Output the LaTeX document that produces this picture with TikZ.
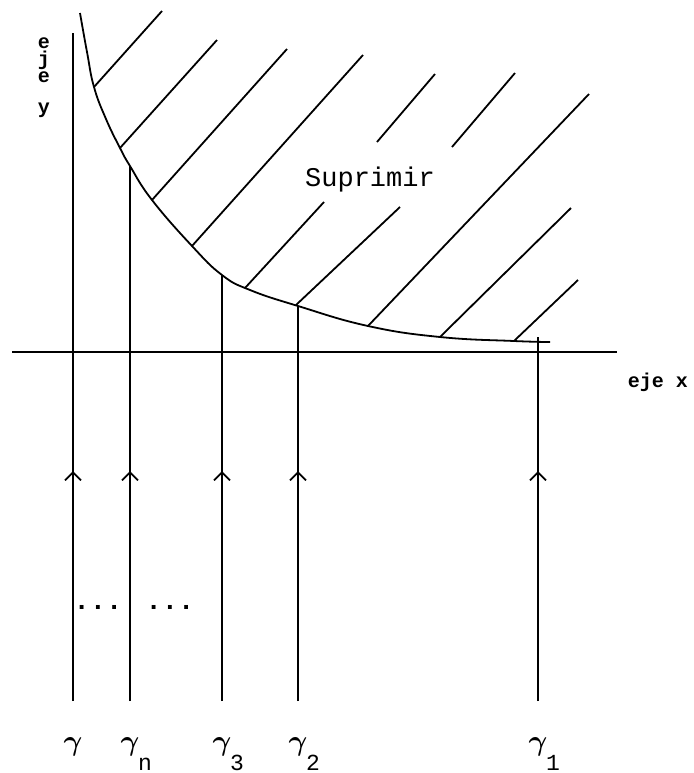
\documentclass[tikz,border=0pt]{standalone}
\usepackage{fontspec}
\usepackage{bm}
\setmonofont{Liberation Mono}
\usetikzlibrary{arrows.meta,decorations.markings}

\begin{document}
\begin{tikzpicture}[x=0.5pt, y=-0.5pt, line width=0.9pt,
		ray/.style={postaction={decorate}, decoration={markings,
			mark=at position 115pt with {\arrow{Straight Barb[length=4pt,width=8pt]}}}},
		axlbl/.style={font=\fontsize{10}{12}\selectfont\ttfamily\bfseries, inner sep=0pt},
		txt/.style={font=\fontsize{13.5}{16}\selectfont\ttfamily, inner sep=0pt},
		glbl/.style={font=\fontsize{14}{16}\selectfont, inner sep=0pt},
		sublbl/.style={font=\fontsize{11.5}{13}\selectfont\ttfamily, inner sep=0pt}]
				\useasboundingbox (0,0) rectangle (694,773);
				\coordinate (xl)    at (12,352);
				\coordinate (xr)    at (617,352);
				\coordinate (ytop)  at (73,33);
				\coordinate (ybot)  at (73,701);
				\coordinate (gntop) at (130,166);
				\coordinate (gnbot) at (130,701);
				\coordinate (g3top) at (222,275);
				\coordinate (g3bot) at (222,701);
				\coordinate (g2top) at (298,306);
				\coordinate (g2bot) at (298,701);
				\coordinate (g1top) at (538,337);
				\coordinate (g1bot) at (538,701);
				\draw (xl) -- (xr);
				\draw plot[smooth, tension=0.75] coordinates {(80,13) (87,52) (94,87) (106,119) (120,148) (130,166)
					(152,200) (192,246) (222,275) (250,290) (298,306) (368,326) (440,337) (514,341) (550,342)};
				\foreach \x/\y/\u/\v in {94/87/162/11, 120/148/217/40, 152/200/287/49, 192/246/363/55,
					245/288/324/202, 296/305/400/207, 368/326/589/94, 440/337/571/208, 514/341/578/280,
					377/142/435/74, 452/147/515/73}
					\draw (\x,\y) -- (\u,\v);
				\draw[ray] (ybot) -- (ytop);
				\draw[ray] (gnbot) -- (gntop);
				\draw[ray] (g3bot) -- (g3top);
				\draw[ray] (g2bot) -- (g2top);
				\draw[ray] (g1bot) -- (g1top);
				\node[txt] (sup) at (370,180) {Suprimir};
				\node[axlbl, anchor=base west] (ejex) at (627,387) {eje x};
				\node[axlbl, anchor=base] (ye1) at (44,48) {e};
				\node[axlbl, anchor=base] (ye2) at (44,65) {j};
				\node[axlbl, anchor=base] (ye3) at (44,82) {e};
				\node[axlbl, anchor=base] (ye4) at (44,113) {y};
				\node[txt, font=\fontsize{13.5}{16}\selectfont\ttfamily\bfseries] (dots1) at (98,607) {...};
				\node[txt, font=\fontsize{13.5}{16}\selectfont\ttfamily\bfseries] (dots2) at (170,607) {...};
				\node[glbl] (g0) at (73,747) {$\bm{\gamma}$};
				\foreach \x/\s/\n in {130/n/gn, 222/3/g3, 298/2/g2, 538/1/g1}
				{
					\node[glbl] (\n) at (\x,747) {$\bm{\gamma}$};
					\node[sublbl, anchor=base] (\n sub) at (\x+15,770) {\s};
				}
		\end{tikzpicture}
\end{document}
